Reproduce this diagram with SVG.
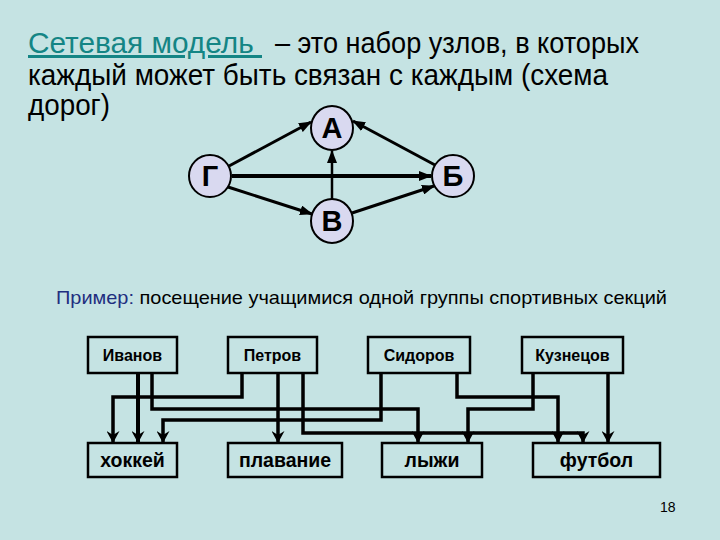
<svg xmlns="http://www.w3.org/2000/svg" width="720" height="540" viewBox="0 0 720 540">
<style>
.title{font-family:"Liberation Sans",Arial,sans-serif;font-size:30px;fill:#000}
.lnk{fill:#148585;text-decoration:underline;white-space:pre}
.node ellipse{fill:#d9d9f0;stroke:#000;stroke-width:2}
.node text{font-family:"Liberation Sans",Arial,sans-serif;font-size:29px;font-weight:bold;text-anchor:middle;fill:#000}
.edge{stroke:#000;stroke-width:3;fill:none}
.box rect{fill:none;stroke:#000;stroke-width:2.5}
.box text{font-family:"Liberation Sans",Arial,sans-serif;font-size:16px;font-weight:bold;text-anchor:middle;fill:#000}
.box.sport text{font-size:19.5px}
.wire{stroke:#000;stroke-width:3.5;fill:none}
.ex{font-family:"Liberation Sans",Arial,sans-serif;font-size:19px;fill:#000}
</style>
<defs>
<marker id="ah" markerUnits="userSpaceOnUse" markerWidth="13" markerHeight="10" refX="12" refY="5" orient="auto">
<path d="M0,0 L13,5 L0,10 z" fill="#000"/>
</marker>
<marker id="dh" markerUnits="userSpaceOnUse" markerWidth="12" markerHeight="13" refX="12" refY="6.5" orient="auto">
<path d="M0,0 L12,6.5 L0,13 L4,6.5 z" fill="#000"/>
</marker>
</defs>
<rect width="720" height="540" fill="#c5e3e3"/>

<text class="title" x="28" y="53"><tspan class="lnk" textLength="234" lengthAdjust="spacingAndGlyphs">Сетевая модель </tspan></text>
<text class="title" x="275" y="53" textLength="364" lengthAdjust="spacingAndGlyphs">– это набор узлов, в которых</text>
<text class="title" x="28" y="85" textLength="580" lengthAdjust="spacingAndGlyphs">каждый может быть связан с каждым (схема</text>
<text class="title" x="28" y="115" textLength="82" lengthAdjust="spacingAndGlyphs">дорог)</text>

<g id="graph-edges">
<line class="edge" x1="229" y1="166" x2="311" y2="122" marker-end="url(#ah)"/>
<line class="edge" x1="435" y1="165" x2="353" y2="121" marker-end="url(#ah)"/>
<line class="edge" x1="232" y1="176" x2="431" y2="176" style="stroke-width:4" marker-end="url(#ah)"/>
<line class="edge" x1="228" y1="187" x2="312" y2="214" marker-end="url(#ah)"/>
<line class="edge" x1="352" y1="213" x2="434" y2="186" marker-end="url(#ah)"/>
<line class="edge" x1="332" y1="199" x2="332" y2="151" style="stroke-width:2.5" marker-end="url(#ah)"/>
</g>
<g id="node-A" class="node"><ellipse cx="332" cy="128" rx="21" ry="22"/><text x="332" y="138">А</text></g>
<g id="node-G" class="node"><ellipse cx="210" cy="176" rx="21" ry="21"/><text x="210" y="186">Г</text></g>
<g id="node-B6" class="node"><ellipse cx="453" cy="176" rx="21" ry="21"/><text x="453" y="186">Б</text></g>
<g id="node-V" class="node"><ellipse cx="332" cy="221" rx="21" ry="22"/><text x="332" y="231">В</text></g>

<text class="ex" x="56" y="304" textLength="611" lengthAdjust="spacingAndGlyphs"><tspan fill="#1f2f80">Пример:</tspan> посещение учащимися одной группы спортивных секций</text>

<g id="wires">
<polyline class="wire" points="138,373 138,443" style="stroke-width:4" marker-end="url(#dh)"/>
<polyline class="wire" points="152,373 152,409 418,409 418,443" marker-end="url(#dh)"/>
<polyline class="wire" points="242,373 242,397 113,397 113,443" marker-end="url(#dh)"/>
<polyline class="wire" points="278,373 278,443" marker-end="url(#dh)"/>
<polyline class="wire" points="303,373 303,433 583,433 583,443" marker-end="url(#dh)"/>
<polyline class="wire" points="381,373 381,420 163,420 163,443" marker-end="url(#dh)"/>
<polyline class="wire" points="457,373 457,397 558,397 558,443" marker-end="url(#dh)"/>
<polyline class="wire" points="533,373 533,409 468,409 468,443" marker-end="url(#dh)"/>
<polyline class="wire" points="608,373 608,443" marker-end="url(#dh)"/>
</g>

<g id="box-ivanov" class="box"><rect x="88" y="337" width="89" height="36"/><text x="132.5" y="361">Иванов</text></g>
<g id="box-petrov" class="box"><rect x="228" y="337" width="89" height="36"/><text x="272.5" y="361">Петров</text></g>
<g id="box-sidorov" class="box"><rect x="368" y="337" width="102" height="36"/><text x="419" y="361">Сидоров</text></g>
<g id="box-kuznetsov" class="box"><rect x="522" y="337" width="101" height="36"/><text x="572.5" y="361">Кузнецов</text></g>

<g id="box-hockey" class="box sport"><rect x="88" y="443" width="89" height="34"/><text x="132.5" y="467">хоккей</text></g>
<g id="box-swim" class="box sport"><rect x="228" y="443" width="114" height="34"/><text x="285" y="467">плавание</text></g>
<g id="box-ski" class="box sport"><rect x="382" y="443" width="100" height="34"/><text x="432" y="467">лыжи</text></g>
<g id="box-football" class="box sport"><rect x="533" y="443" width="127" height="34"/><text x="596.5" y="467">футбол</text></g>

<text x="660" y="512" style="font-family:'Liberation Sans',Arial,sans-serif;font-size:14px;fill:#000">18</text>
</svg>
